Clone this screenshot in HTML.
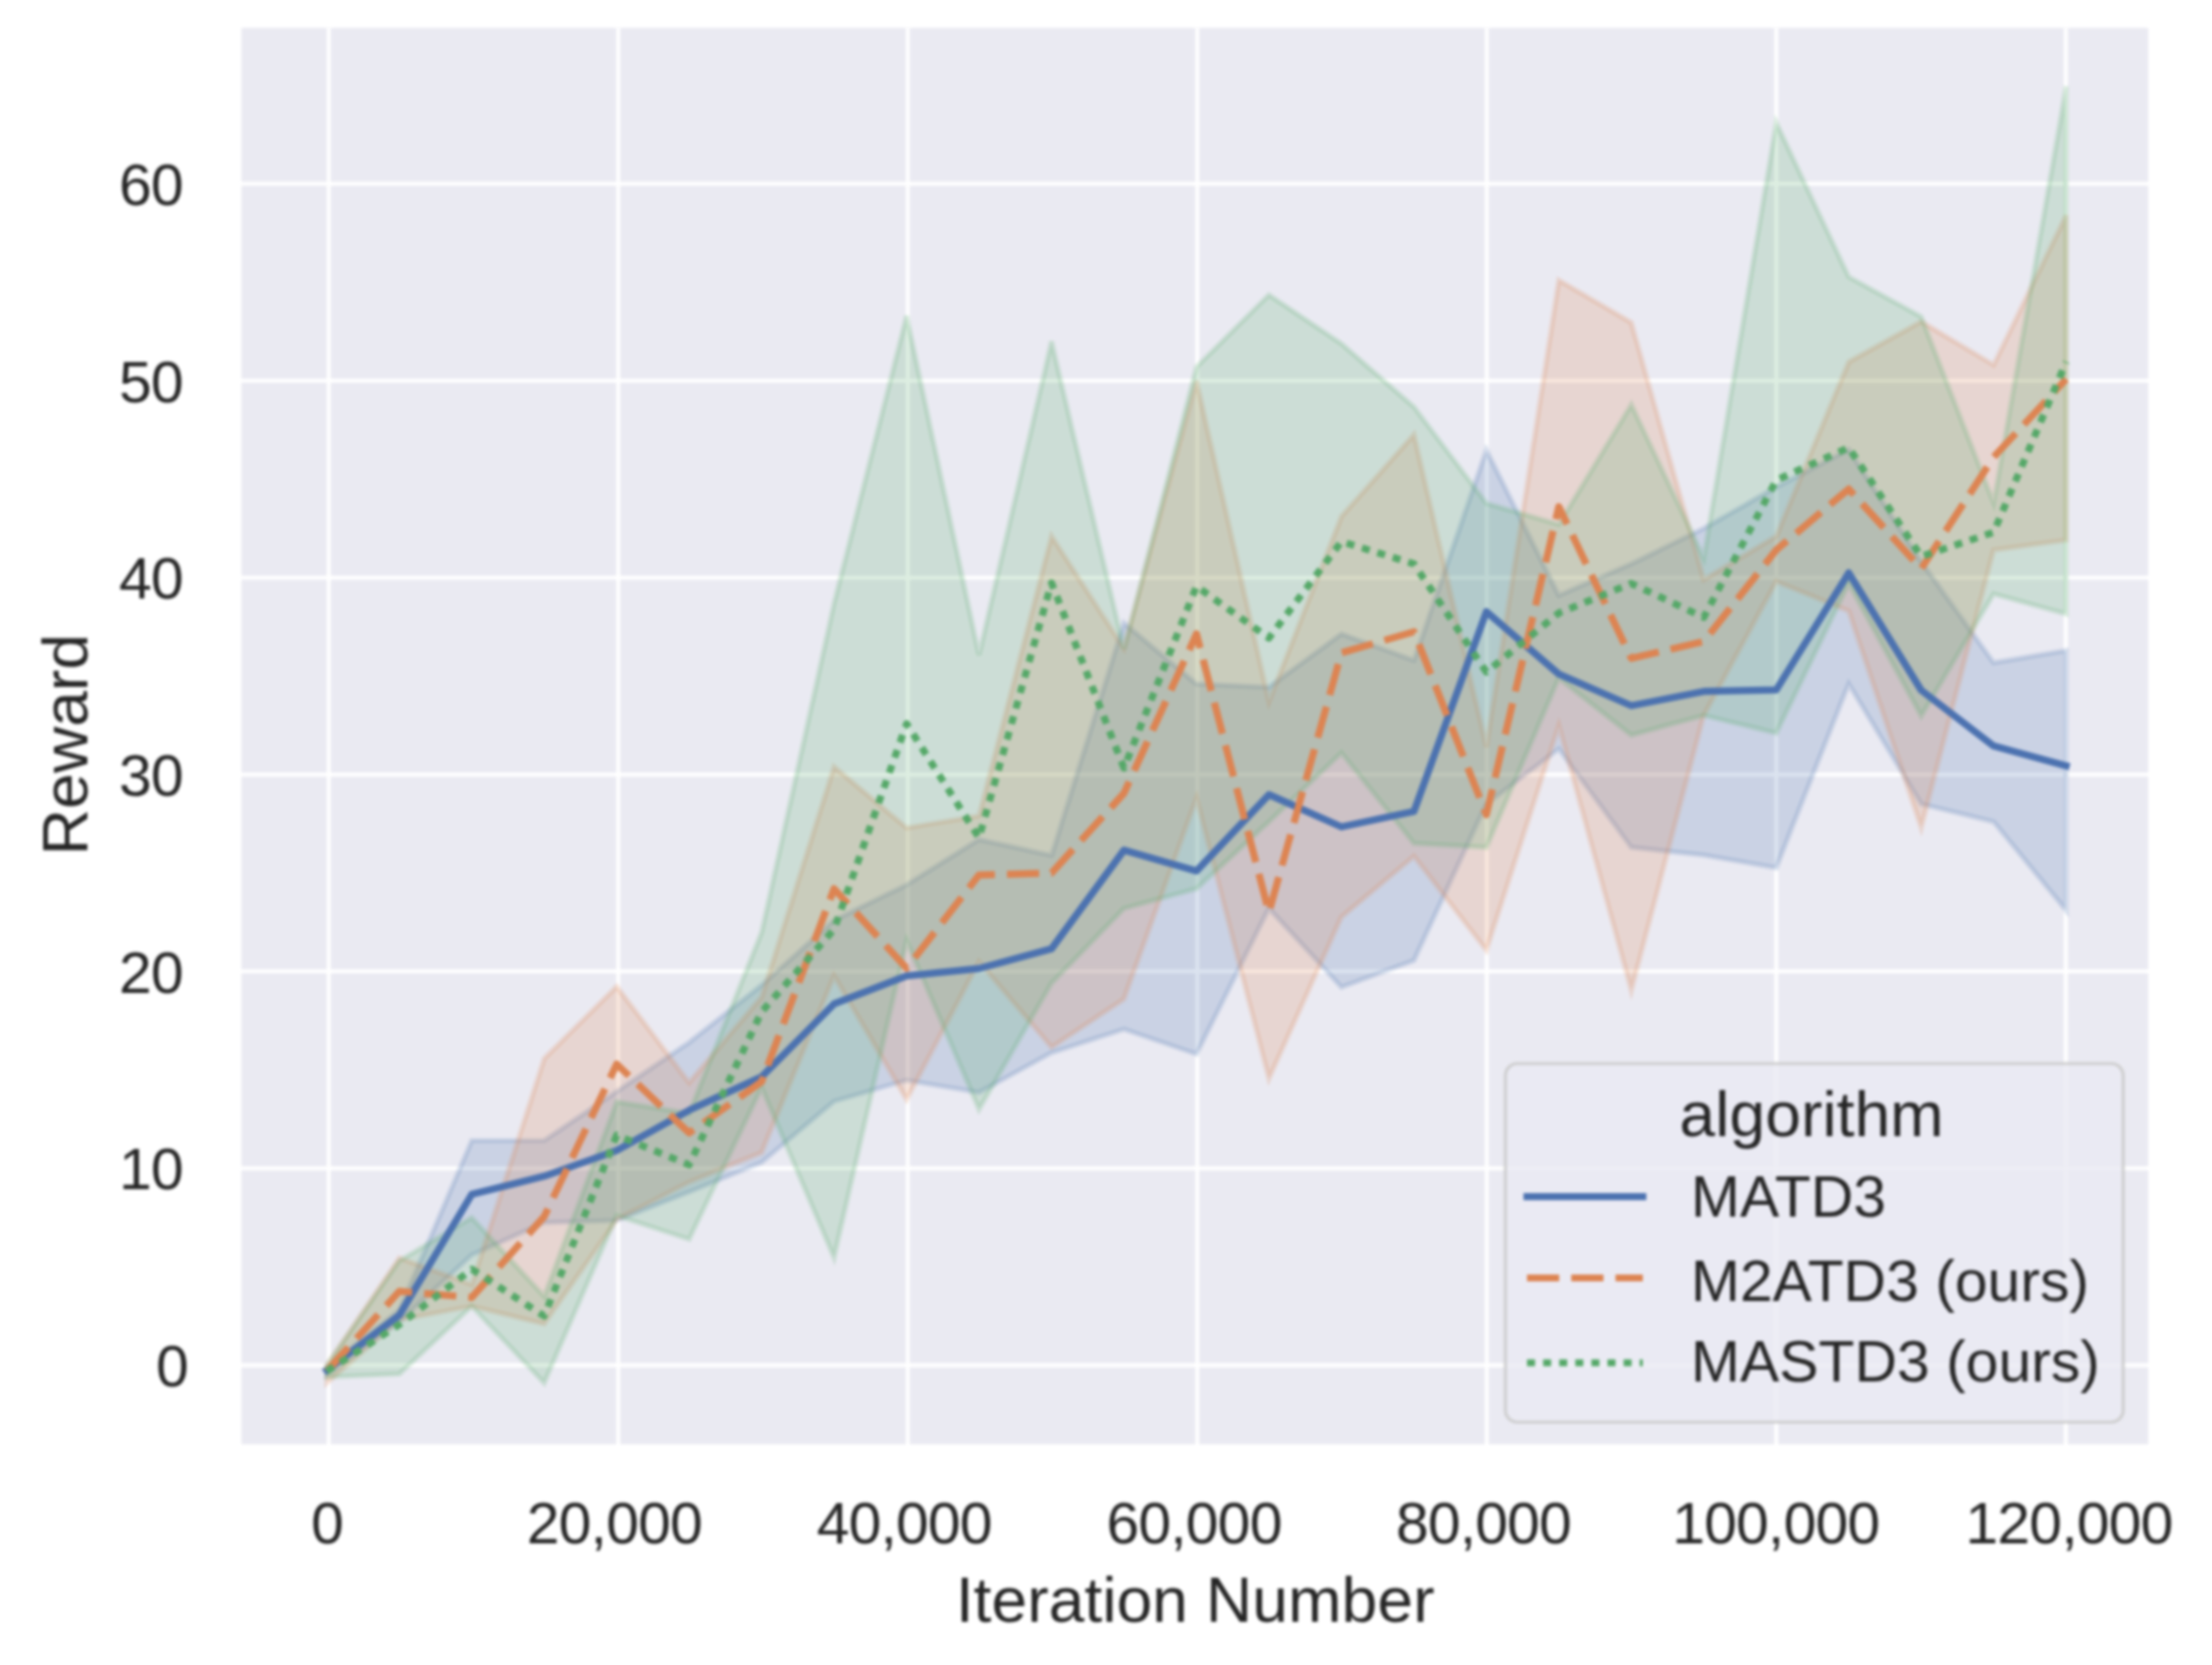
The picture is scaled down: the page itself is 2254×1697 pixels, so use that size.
<!DOCTYPE html>
<html><head><meta charset="utf-8"><title>Reward vs Iteration Number</title>
<style>
html,body{margin:0;padding:0;background:#fff;}
svg{display:block;filter:blur(1.4px);}
text{font-family:"Liberation Sans",Arial,sans-serif;fill:#262626;}
.t{font-size:60px;}
.k{letter-spacing:-0.85px;}
.l{font-size:65.5px;}
</style></head><body>
<svg width="2254" height="1697" viewBox="0 0 2254 1697">
<rect x="0" y="0" width="2254" height="1697" fill="#ffffff"/>
<rect x="246" y="28.5" width="1943" height="1443.5" fill="#eaeaf2"/>
<defs><clipPath id="c"><rect x="246" y="28.5" width="1943" height="1443.5"/></clipPath></defs>
<g stroke="#ffffff" stroke-width="4.0" clip-path="url(#c)">
<line x1="335" y1="28.5" x2="335" y2="1472"/>
<line x1="630" y1="28.5" x2="630" y2="1472"/>
<line x1="925" y1="28.5" x2="925" y2="1472"/>
<line x1="1220" y1="28.5" x2="1220" y2="1472"/>
<line x1="1515" y1="28.5" x2="1515" y2="1472"/>
<line x1="1810" y1="28.5" x2="1810" y2="1472"/>
<line x1="2105" y1="28.5" x2="2105" y2="1472"/>
<line x1="246" y1="1391.5" x2="2189" y2="1391.5"/>
<line x1="246" y1="1190.8" x2="2189" y2="1190.8"/>
<line x1="246" y1="990.1" x2="2189" y2="990.1"/>
<line x1="246" y1="789.4" x2="2189" y2="789.4"/>
<line x1="246" y1="588.7" x2="2189" y2="588.7"/>
<line x1="246" y1="388.0" x2="2189" y2="388.0"/>
<line x1="246" y1="187.3" x2="2189" y2="187.3"/>
</g>
<g clip-path="url(#c)">
<polygon points="333.0,1393.5 406.9,1335.3 480.7,1162.5 554.5,1162.5 628.4,1112.5 702.2,1062.4 776.1,1004.1 849.9,937.9 923.8,901.8 997.6,855.6 1071.5,871.7 1145.3,634.9 1219.2,697.1 1293.0,700.3 1366.9,646.1 1440.8,673.0 1514.6,458.8 1588.4,606.8 1662.3,574.7 1736.1,538.5 1810.0,496.4 1883.8,458.2 1957.7,572.6 2031.5,675.4 2105.4,663.0 2105.4,927.9 2031.5,837.6 1957.7,819.5 1883.8,697.1 1810.0,884.5 1736.1,871.7 1662.3,863.7 1588.4,763.3 1514.6,819.5 1440.8,978.9 1366.9,1006.2 1293.0,925.9 1219.2,1074.4 1145.3,1049.1 1071.5,1073.0 997.6,1113.5 923.8,1101.1 849.9,1122.6 776.1,1184.8 702.2,1214.9 628.4,1244.0 554.5,1246.2 480.7,1279.1 406.9,1347.3 333.0,1401.5" fill="#4c72b0" fill-opacity="0.2" stroke="#4c72b0" stroke-opacity="0.2" stroke-width="5.2" stroke-linejoin="miter"/>
<polygon points="333.0,1391.5 406.9,1282.1 480.7,1309.2 554.5,1079.0 628.4,1005.4 702.2,1103.5 776.1,1016.2 849.9,781.4 923.8,843.8 997.6,831.5 1071.5,546.6 1145.3,661.0 1219.2,388.0 1293.0,715.1 1366.9,526.5 1440.8,443.0 1514.6,761.3 1588.4,285.6 1662.3,328.8 1736.1,590.7 1810.0,546.6 1883.8,368.9 1957.7,327.8 2031.5,371.9 2105.4,219.4 2105.4,550.6 2031.5,560.6 1957.7,843.6 1883.8,622.8 1810.0,592.7 1736.1,729.2 1662.3,1009.4 1588.4,739.8 1514.6,968.6 1440.8,872.7 1366.9,934.7 1293.0,1099.5 1219.2,813.5 1145.3,1018.2 1071.5,1067.4 997.6,980.1 923.8,1120.6 849.9,994.7 776.1,1174.7 702.2,1204.8 628.4,1243.0 554.5,1349.4 480.7,1331.3 406.9,1345.3 333.0,1409.6" fill="#dd8452" fill-opacity="0.2" stroke="#dd8452" stroke-opacity="0.2" stroke-width="5.2" stroke-linejoin="miter"/>
<polygon points="333.0,1391.5 406.9,1285.1 480.7,1241.0 554.5,1321.3 628.4,1123.0 702.2,1134.6 776.1,950.0 849.9,614.8 923.8,321.8 997.6,667.6 1071.5,347.9 1145.3,661.0 1219.2,374.0 1293.0,300.5 1366.9,350.3 1440.8,414.7 1514.6,513.0 1588.4,534.5 1662.3,412.5 1736.1,568.6 1810.0,125.1 1883.8,282.2 1957.7,322.8 2031.5,512.4 2105.4,88.0 2105.4,625.8 2031.5,605.4 1957.7,729.8 1883.8,594.7 1810.0,747.3 1736.1,729.2 1662.3,749.3 1588.4,691.1 1514.6,863.7 1440.8,859.6 1366.9,767.3 1293.0,837.6 1219.2,905.8 1145.3,925.9 1071.5,1002.1 997.6,1130.6 923.8,958.8 849.9,1281.9 776.1,1108.5 702.2,1263.1 628.4,1239.0 554.5,1409.6 480.7,1331.3 406.9,1400.5 333.0,1403.5" fill="#55a868" fill-opacity="0.2" stroke="#55a868" stroke-opacity="0.2" stroke-width="5.2" stroke-linejoin="miter"/>
<polyline points="333.0,1396.5 406.9,1340.3 480.7,1217.3 554.5,1198.8 628.4,1172.7 702.2,1131.6 776.1,1097.5 849.9,1023.2 923.8,994.7 997.6,987.1 1071.5,967.0 1145.3,866.5 1219.2,887.7 1293.0,809.9 1366.9,842.8 1440.8,826.9 1514.6,623.4 1588.4,687.0 1662.3,719.2 1736.1,704.7 1810.0,703.1 1883.8,583.9 1957.7,703.5 2031.5,760.3 2105.4,780.6" fill="none" stroke="#4c72b0" stroke-width="7.2" stroke-linejoin="round" stroke-linecap="square"/>
<polyline points="333.0,1397.5 406.9,1316.2 480.7,1322.3 554.5,1240.0 628.4,1084.6 702.2,1154.7 776.1,1102.5 849.9,905.8 923.8,986.9 997.6,891.8 1071.5,889.8 1145.3,808.5 1219.2,646.1 1293.0,929.9 1366.9,665.4 1440.8,643.9 1514.6,830.3 1588.4,516.4 1662.3,671.0 1736.1,653.9 1810.0,560.6 1883.8,498.4 1957.7,579.7 2031.5,465.9 2105.4,386.4" fill="none" stroke="#dd8452" stroke-width="7.2" stroke-linejoin="round" stroke-dasharray="32.8 12.3"/>
<polyline points="333.0,1397.5 406.9,1350.0 480.7,1293.6 554.5,1341.3 628.4,1157.1 702.2,1187.2 776.1,1031.2 849.9,947.2 923.8,737.6 997.6,854.0 1071.5,594.1 1145.3,782.8 1219.2,597.5 1293.0,650.3 1366.9,552.0 1440.8,574.7 1514.6,685.0 1588.4,624.8 1662.3,594.7 1736.1,629.2 1810.0,489.4 1883.8,456.2 1957.7,567.2 2031.5,542.5 2105.4,368.9" fill="none" stroke="#55a868" stroke-width="7.2" stroke-linejoin="round" stroke-dasharray="8.2 8.2"/>
</g>
<g class="t k" text-anchor="end">
<text x="191.5" y="1413.0">0</text>
<text x="186.3" y="1212.3">10</text>
<text x="186.3" y="1011.6">20</text>
<text x="186.3" y="810.9">30</text>
<text x="186.3" y="610.2">40</text>
<text x="186.3" y="409.5">50</text>
<text x="186.3" y="208.8">60</text>
</g>
<g class="t k" text-anchor="middle">
<text x="333.3" y="1572.5">0</text>
<text x="626.0" y="1572.5">20,000</text>
<text x="921.4" y="1572.5">40,000</text>
<text x="1216.7" y="1572.5">60,000</text>
<text x="1511.6" y="1572.5">80,000</text>
<text x="1809.5" y="1572.5">100,000</text>
<text x="2108.3" y="1572.5">120,000</text>
</g>
<text class="l" text-anchor="middle" x="1217.8" y="1652.5">Iteration Number</text>
<text class="l" text-anchor="middle" transform="translate(88.9,759) rotate(-90)">Reward</text>
<rect x="1534" y="1084" width="629.5" height="365.5" rx="12" ry="12" fill="#eaeaf2" fill-opacity="0.8" stroke="#cccccc" stroke-opacity="0.9" stroke-width="3.2"/>
<text class="l" text-anchor="middle" x="1846" y="1158.4">algorithm</text>
<line x1="1556" y1="1219.7" x2="1674" y2="1219.7" stroke="#4c72b0" stroke-width="7.2" stroke-linecap="square"/>
<line x1="1556" y1="1302.5" x2="1674" y2="1302.5" stroke="#dd8452" stroke-width="7.2" stroke-dasharray="32.8 12.3"/>
<line x1="1556" y1="1389" x2="1674" y2="1389" stroke="#55a868" stroke-width="7.2" stroke-dasharray="8.2 8.2"/>
<text class="t" x="1723" y="1239.5">MATD3</text>
<text class="t" x="1723" y="1326">M2ATD3 (ours)</text>
<text class="t" x="1723" y="1408.3">MASTD3 (ours)</text>
</svg></body></html>
